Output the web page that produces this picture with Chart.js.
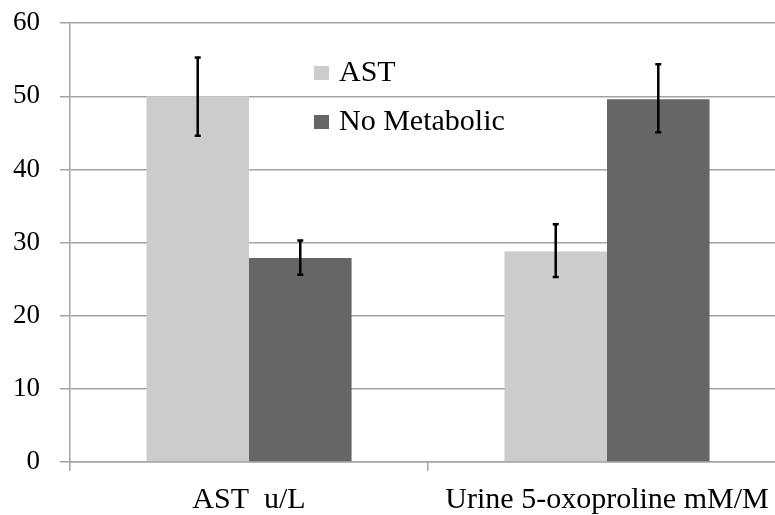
<!DOCTYPE html>
<html>
  <head>
    <title>AST and urine 5-oxoproline</title>
    <script src="https://cdn.jsdelivr.net/npm/chart.js"></script>
    <style>
      body { margin: 0; overflow: hidden; background: #fff; }
      #wrap { width: 800px; height: 528px; margin-top: -13px; }
    </style>
  </head>
  <body>
    <div id="wrap"><canvas id="myChart"></canvas></div>
    <script>
      var categories = ["AST  u/L", "Urine 5-oxoproline mM/M"];
      var seriesNames = ["AST", "No Metabolic"];
      var astValues = [50.0, 28.8];
      var noMetValues = [27.9, 49.6];
      // error bar ends
      var astLow = [44.6, 25.3];
      var astHigh = [55.3, 32.5];
      var noMetLow = [25.6, 45.1];
      var noMetHigh = [30.3, 54.4];
      var yTicks = [0, 10, 20, 30, 40, 50, 60];

      var gridColor = "#a3a3a3";
      var serif = '"Liberation Serif", "Times New Roman", serif';

      // draws the black error bars on top of each bar
      var errorBars = {
        id: "errorBars",
        afterDatasetsDraw: function (chart) {
          var ctx = chart.ctx;
          var y = chart.scales.y;
          ctx.save();
          ctx.strokeStyle = "#000";
          ctx.lineWidth = 2.5;
          chart.data.datasets.forEach(function (ds, i) {
            var meta = chart.getDatasetMeta(i);
            meta.data.forEach(function (bar, j) {
              var top = y.getPixelForValue(ds.errHigh[j]);
              var bot = y.getPixelForValue(ds.errLow[j]);
              ctx.beginPath();
              ctx.moveTo(bar.x, top);
              ctx.lineTo(bar.x, bot);
              ctx.moveTo(bar.x - 3, top);
              ctx.lineTo(bar.x + 3, top);
              ctx.moveTo(bar.x - 3, bot);
              ctx.lineTo(bar.x + 3, bot);
              ctx.stroke();
            });
          });
          ctx.restore();
        }
      };

      // legend sits inside the plot, like the original
      var innerLegend = {
        id: "innerLegend",
        afterDraw: function (chart) {
          var ctx = chart.ctx;
          var rows = [94, 143];
          ctx.save();
          ctx.font = "30px " + serif;
          ctx.textBaseline = "alphabetic";
          ctx.textAlign = "left";
          chart.data.datasets.forEach(function (ds, i) {
            ctx.fillStyle = ds.backgroundColor;
            ctx.fillRect(314, rows[i] - 15, 15, 14);
            ctx.fillStyle = "#000";
            ctx.fillText(ds.label, 339, rows[i]);
          });
          ctx.restore();
        }
      };

      var ctx = document.getElementById("myChart").getContext("2d");
      var myChart = new Chart(ctx, {
        type: "bar",
        data: {
          labels: categories,
          datasets: [
            {
              label: seriesNames[0],
              data: astValues,
              errLow: astLow,
              errHigh: astHigh,
              backgroundColor: "#cccccc",
              categoryPercentage: 0.573,
              barPercentage: 1.0
            },
            {
              label: seriesNames[1],
              data: noMetValues,
              errLow: noMetLow,
              errHigh: noMetHigh,
              backgroundColor: "#666666",
              categoryPercentage: 0.573,
              barPercentage: 1.0
            }
          ]
        },
        options: {
          responsive: true,
          maintainAspectRatio: false,
          animation: false,
          layout: { padding: { top: 6, right: 14, left: 0, bottom: 0 } },
          plugins: {
            legend: { display: false },
            tooltip: { enabled: false }
          },
          scales: {
            x: {
              grid: {
                display: true,
                drawOnChartArea: false,
                drawTicks: true,
                tickLength: 9,
                color: gridColor,
                lineWidth: 1.5
              },
              border: { display: true, color: gridColor, width: 1.5 },
              ticks: {
                color: "#000",
                padding: 11,
                maxRotation: 0,
                autoSkip: false,
                font: { family: serif, size: 30 }
              },
              afterFit: function (scale) { scale.height = 53; }
            },
            y: {
              min: 0,
              max: 60,
              afterBuildTicks: function (scale) {
                scale.ticks = yTicks.map(function (v) { return { value: v }; });
              },
              grid: {
                color: gridColor,
                lineWidth: 1.5,
                tickLength: 10
              },
              border: { display: true, color: gridColor, width: 1.5 },
              ticks: {
                color: "#000",
                padding: 20,
                font: { family: serif, size: 27 }
              },
              afterFit: function (scale) { scale.width = 70; }
            }
          }
        },
        plugins: [errorBars, innerLegend]
      });
    </script>
  </body>
</html>
